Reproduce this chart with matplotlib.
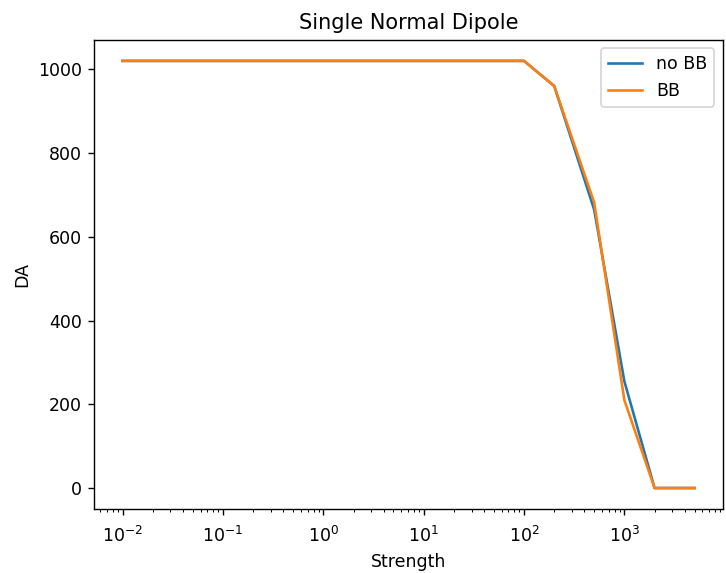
import matplotlib
matplotlib.use("Agg")
import matplotlib.pyplot as plt

strength = [0.01, 0.1, 1, 10, 100, 200, 500, 1000, 2000, 5000]
da_no_bb = [1020, 1020, 1020, 1020, 1020, 960, 665, 255, 0, 0]
da_bb = [1020, 1020, 1020, 1020, 1020, 960, 682, 210, 0, 0]
x_ticks = [1e-2, 1e-1, 1e0, 1e1, 1e2, 1e3]

# reference looks like a higher-dpi render, so scale everything up
fig, ax = plt.subplots(figsize=(726 / 125, 573 / 125), dpi=125)
ax.plot(strength, da_no_bb, label="no BB")
ax.plot(strength, da_bb, label="BB")
ax.set_xscale("log")
ax.set_xticks(x_ticks)
ax.tick_params(axis="x", which="major", pad=6)
ax.set_xlabel("Strength")
ax.set_ylabel("DA")
ax.set_title("Single Normal Dipole")
ax.legend()
fig.subplots_adjust(left=0.1295, right=0.996, top=0.931, bottom=0.111)
fig.savefig("out.png")
